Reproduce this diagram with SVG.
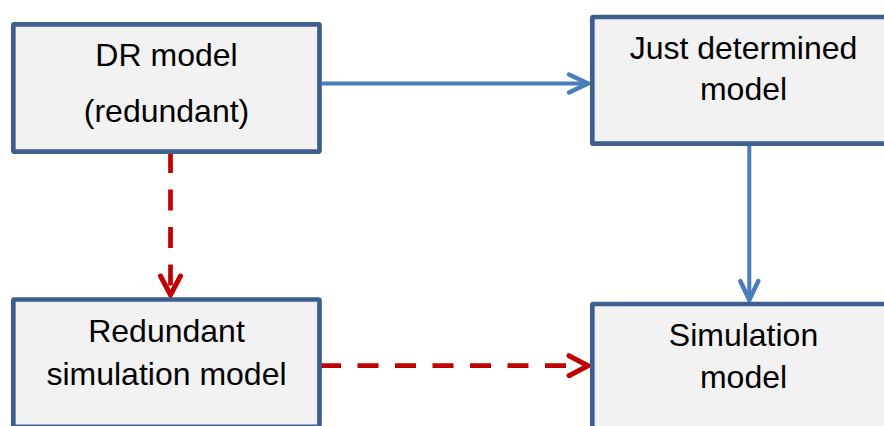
<svg xmlns="http://www.w3.org/2000/svg" width="884" height="426" viewBox="0 0 884 426">
<defs>
<style>
.box{fill:#F2F2F2;stroke:#3C5F8E;stroke-width:4.7}
.t{font-family:"Liberation Sans",Arial,sans-serif;font-size:32px;fill:#000;text-anchor:middle}
.blue{stroke:#4A7EBB;stroke-width:4;fill:none}
.red{stroke:#C00000;stroke-width:4.7;fill:none;stroke-dasharray:21 16.5}
</style>
<marker id="ab" markerUnits="userSpaceOnUse" viewBox="-24 -14 28 28" refX="0" refY="0" markerWidth="28" markerHeight="28" orient="auto" overflow="visible">
<path d="M-19,-9 L0,0 L-19,9" fill="none" stroke="#4A7EBB" stroke-width="4.5" stroke-linecap="round" stroke-linejoin="miter"/>
</marker>
<marker id="ar" markerUnits="userSpaceOnUse" viewBox="-24 -14 28 28" refX="0" refY="0" markerWidth="28" markerHeight="28" orient="auto" overflow="visible">
<path d="M-19,-10 L0,0 L-19,10" fill="none" stroke="#C00000" stroke-width="5" stroke-linecap="round" stroke-linejoin="miter"/>
</marker>
</defs>
<rect width="884" height="426" fill="#FFFFFF"/>
<g id="connectors">
<line class="blue" x1="322" y1="83.5" x2="588" y2="83.5" marker-end="url(#ab)"/>
<line class="blue" x1="749.3" y1="146" x2="749.3" y2="300" marker-end="url(#ab)"/>
<line class="red" x1="170.5" y1="152" x2="170.5" y2="295" marker-end="url(#ar)"/>
<line class="red" x1="320" y1="365.7" x2="588" y2="365.7" marker-end="url(#ar)"/>
</g>
<g id="node-dr">
<rect class="box" x="13.3" y="24.3" width="306.2" height="127.3" rx="1"/>
<text class="t" x="166.5" y="66">DR model</text>
<text class="t" x="166.5" y="122">(redundant)</text>
</g>
<g id="node-just">
<rect class="box" x="592.3" y="17" width="303" height="126.7" rx="1"/>
<text class="t" x="743.5" y="59">Just determined</text>
<text class="t" x="743.5" y="100">model</text>
</g>
<g id="node-redsim">
<rect class="box" x="13.3" y="299.5" width="306.2" height="127.3" rx="1"/>
<text class="t" x="166.5" y="341.7">Redundant</text>
<text class="t" x="166.5" y="385">simulation model</text>
</g>
<g id="node-sim">
<rect class="box" x="592.3" y="304" width="303" height="127" rx="1"/>
<text class="t" x="743.5" y="346">Simulation</text>
<text class="t" x="743.5" y="388">model</text>
</g>
</svg>
